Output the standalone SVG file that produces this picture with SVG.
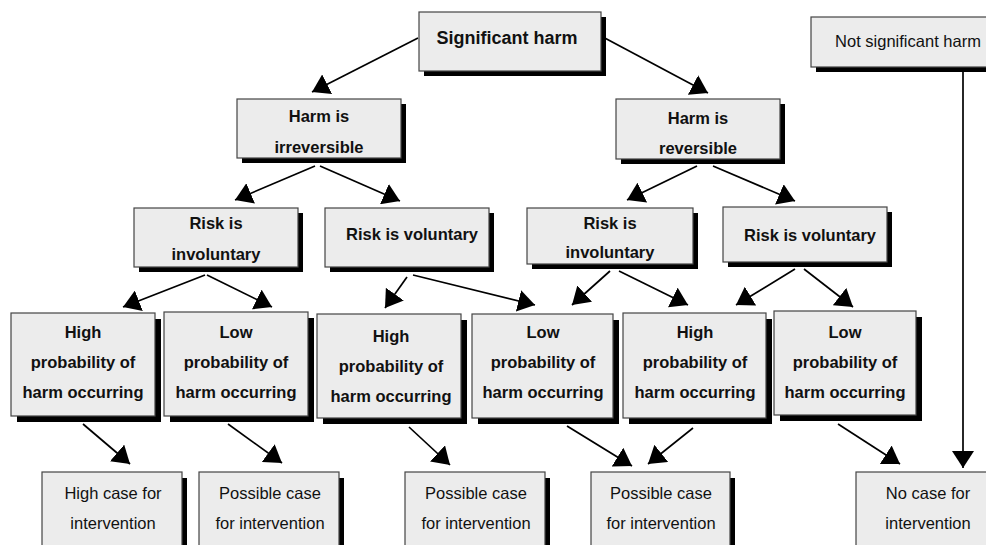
<svg xmlns="http://www.w3.org/2000/svg" width="986" height="545" viewBox="0 0 986 545">
<defs>
<style>
.box{fill:#ececec;stroke:#444;stroke-width:1.2}
.sh{fill:#000}
.t{font-family:"Liberation Sans",Arial,sans-serif;font-size:16.5px;fill:#111;text-anchor:middle}
.b{font-weight:bold}
.big{font-size:18px}
.c line{stroke:#000;stroke-width:1.7;marker-end:url(#ah)}
</style>
<marker id="ah" markerUnits="userSpaceOnUse" markerWidth="18" markerHeight="22" refX="17" refY="11" orient="auto">
<path d="M0,0 L17,11 L0,22 Z" fill="#000"/>
</marker>
</defs>
<rect width="986" height="545" fill="#fff"/>

<g class="c" id="connectors">
<line x1="418" y1="38" x2="312" y2="92"/>
<line x1="601" y1="36" x2="708" y2="93"/>
<line x1="315" y1="166" x2="235" y2="200"/>
<line x1="320" y1="166" x2="400" y2="201"/>
<line x1="205" y1="275" x2="123" y2="307"/>
<line x1="207" y1="275" x2="272" y2="307"/>
<line x1="407" y1="277" x2="385" y2="308"/>
<line x1="413" y1="275" x2="535" y2="305"/>
<line x1="697" y1="166" x2="627" y2="200"/>
<line x1="713" y1="166" x2="795" y2="201"/>
<line x1="610" y1="271" x2="572" y2="305"/>
<line x1="619" y1="271" x2="688" y2="305"/>
<line x1="795" y1="269" x2="736" y2="305"/>
<line x1="804" y1="269" x2="853" y2="307"/>
<line x1="83" y1="424" x2="130" y2="464"/>
<line x1="228" y1="424" x2="282" y2="463"/>
<line x1="409" y1="427" x2="450" y2="465"/>
<line x1="567" y1="426" x2="632" y2="466"/>
<line x1="693" y1="428" x2="648" y2="464"/>
<line x1="838" y1="424" x2="900" y2="464"/>
<line x1="963" y1="67" x2="963" y2="468"/>
</g>

<g id="sig"><rect class="sh" x="424" y="17" width="182" height="59"/><rect class="box" x="419" y="12" width="182" height="59"/><text class="t b big" x="507" y="44">Significant harm</text></g>
<g id="notsig"><rect class="sh" x="816" y="22" width="200" height="50"/><rect class="box" x="811" y="17" width="200" height="50"/><text class="t" x="908" y="46.5">Not significant harm</text></g>

<g id="irr"><rect class="sh" x="242" y="104" width="164" height="59"/><rect class="box" x="237" y="99" width="164" height="59"/><text class="t b" x="319" y="122">Harm is</text><text class="t b" x="319" y="153">irreversible</text></g>
<g id="rev"><rect class="sh" x="621" y="104" width="164" height="60"/><rect class="box" x="616" y="99" width="164" height="60"/><text class="t b" x="698" y="124">Harm is</text><text class="t b" x="698" y="154">reversible</text></g>

<g id="inv1"><rect class="sh" x="139" y="213" width="164" height="59"/><rect class="box" x="134" y="208" width="164" height="59"/><text class="t b" x="216" y="229">Risk is</text><text class="t b" x="216" y="260">involuntary</text></g>
<g id="vol1"><rect class="sh" x="330" y="213" width="164" height="59"/><rect class="box" x="325" y="208" width="164" height="59"/><text class="t b" x="412" y="240">Risk is voluntary</text></g>
<g id="inv2"><rect class="sh" x="532" y="213" width="166" height="56"/><rect class="box" x="527" y="208" width="166" height="56"/><text class="t b" x="610" y="229">Risk is</text><text class="t b" x="610" y="258">involuntary</text></g>
<g id="vol2"><rect class="sh" x="728" y="212" width="164" height="55"/><rect class="box" x="723" y="207" width="164" height="55"/><text class="t b" x="810" y="240.5">Risk is voluntary</text></g>

<g id="p1"><rect class="sh" x="17" y="319" width="144" height="103"/><rect class="box" x="11" y="313" width="144" height="103"/><text class="t b" x="83" y="338">High</text><text class="t b" x="83" y="368">probability of</text><text class="t b" x="83" y="398">harm occurring</text></g>
<g id="p2"><rect class="sh" x="170" y="318" width="144" height="104"/><rect class="box" x="164" y="312" width="144" height="104"/><text class="t b" x="236" y="338">Low</text><text class="t b" x="236" y="368">probability of</text><text class="t b" x="236" y="398">harm occurring</text></g>
<g id="p3"><rect class="sh" x="323" y="320" width="144" height="104"/><rect class="box" x="317" y="314" width="144" height="104"/><text class="t b" x="391" y="341.5">High</text><text class="t b" x="391" y="371.5">probability of</text><text class="t b" x="391" y="401.5">harm occurring</text></g>
<g id="p4"><rect class="sh" x="478" y="320" width="141" height="104"/><rect class="box" x="472" y="314" width="141" height="104"/><text class="t b" x="543" y="337.5">Low</text><text class="t b" x="543" y="367.5">probability of</text><text class="t b" x="543" y="397.5">harm occurring</text></g>
<g id="p5"><rect class="sh" x="629" y="319" width="143" height="105"/><rect class="box" x="623" y="313" width="143" height="105"/><text class="t b" x="695" y="337.5">High</text><text class="t b" x="695" y="368">probability of</text><text class="t b" x="695" y="397.5">harm occurring</text></g>
<g id="p6"><rect class="sh" x="780" y="317" width="142" height="104"/><rect class="box" x="774" y="311" width="142" height="104"/><text class="t b" x="845" y="337.5">Low</text><text class="t b" x="845" y="368">probability of</text><text class="t b" x="845" y="398">harm occurring</text></g>

<g id="o1"><rect class="sh" x="47" y="478" width="140" height="80"/><rect class="box" x="42" y="472" width="140" height="80"/><text class="t" x="113" y="498.5">High case for</text><text class="t" x="113" y="528.5">intervention</text></g>
<g id="o2"><rect class="sh" x="204" y="478" width="140" height="80"/><rect class="box" x="199" y="472" width="140" height="80"/><text class="t" x="270" y="499">Possible case</text><text class="t" x="270" y="529">for intervention</text></g>
<g id="o3"><rect class="sh" x="410" y="478" width="140" height="80"/><rect class="box" x="405" y="472" width="140" height="80"/><text class="t" x="476" y="499">Possible case</text><text class="t" x="476" y="529">for intervention</text></g>
<g id="o4"><rect class="sh" x="596" y="478" width="139" height="80"/><rect class="box" x="591" y="472" width="139" height="80"/><text class="t" x="661" y="499">Possible case</text><text class="t" x="661" y="529">for intervention</text></g>
<g id="o5"><rect class="sh" x="861" y="478" width="140" height="80"/><rect class="box" x="856" y="472" width="140" height="80"/><text class="t" x="928" y="499">No case for</text><text class="t" x="928" y="529">intervention</text></g>
</svg>
